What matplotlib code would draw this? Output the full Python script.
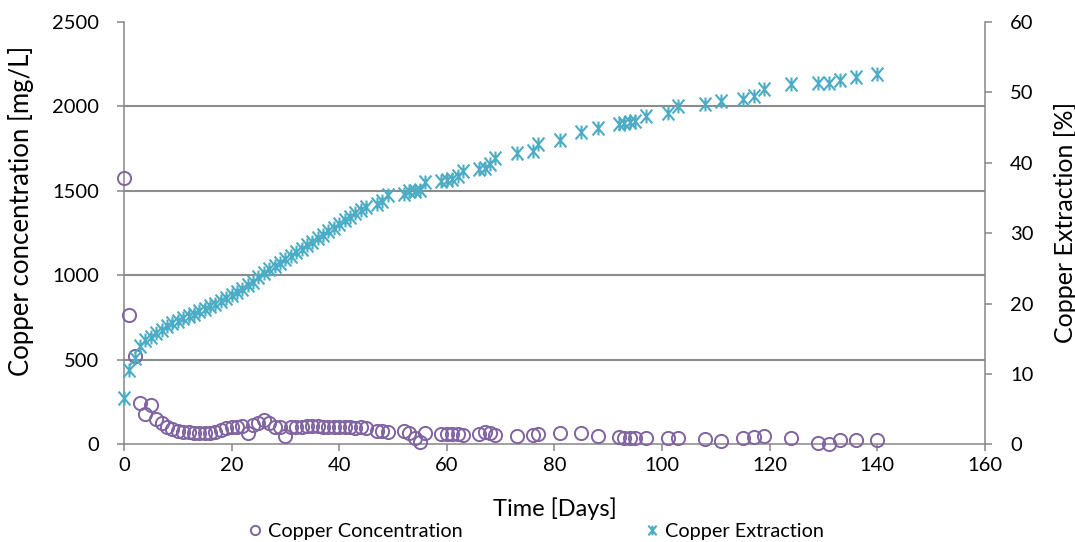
import matplotlib
matplotlib.use("Agg")
import matplotlib.pyplot as plt
from matplotlib.path import Path
import numpy as np

plt.rcParams['font.family'] = ['Lato', 'DejaVu Sans']

days = list(range(0, 46)) + [47, 48, 49, 52, 53, 54, 55, 56, 59, 60, 61, 62, 63,
                             66, 67, 68, 69, 73, 76, 77, 81, 85, 88, 92, 93, 94,
                             95, 97, 101, 103, 108, 111, 115, 117, 119, 124, 129,
                             131, 133, 136, 140]

concentration = [1575, 765, 520, 243, 180, 235, 150, 125, 105, 90,
                 80, 72, 70, 68, 66, 64, 68, 75, 85, 95,
                 100, 100, 108, 65, 115, 125, 145, 125, 105, 100,
                 48, 105, 105, 105, 108, 110, 108, 105, 105, 100,
                 100, 100, 100, 95, 100, 95,
                 80, 78, 75, 78, 65, 35, 12, 65, 60, 60, 60, 58, 55,
                 58, 72, 68, 55, 48, 55, 61, 65, 69, 49, 41, 36, 36,
                 36, 36, 39, 39, 30, 20, 36, 41, 51, 39, 6,
                 3, 25, 26, 26]

extraction = [6.6, 10.5, 12.3, 13.9, 14.8, 15.3, 15.8, 16.3, 16.8, 17.2,
              17.5, 17.9, 18.2, 18.5, 18.9, 19.2, 19.6, 20.0, 20.4, 20.8,
              21.2, 21.7, 22.1, 22.6, 23.1, 23.7, 24.4, 24.9, 25.4, 25.8,
              26.3, 26.8, 27.3, 27.8, 28.3, 28.8, 29.3, 29.8, 30.3, 30.8,
              31.3, 31.8, 32.3, 32.8, 33.3, 33.7,
              34.2, 34.6, 35.4, 35.6, 36.0, 36.0, 36.2, 37.2, 37.4, 37.6, 37.7, 38.1, 38.8,
              39.1, 39.3, 39.8, 40.7, 41.4, 41.7, 42.6, 43.3, 44.3, 45.0, 45.5, 45.7, 45.8,
              46.0, 46.7, 47.1, 48.0, 48.4, 48.8, 49.1, 49.5, 50.5, 51.2, 51.3,
              51.3, 51.7, 52.2, 52.6]

x_ticks = [0, 20, 40, 60, 80, 100, 120, 140, 160]
left_ticks = [0, 500, 1000, 1500, 2000, 2500]
right_ticks = [0, 10, 20, 30, 40, 50, 60]

purple = '#8064A2'
aqua = '#4BACC6'
axis_gray = '#868686'

star = Path([(0, -1), (0, 1), (-0.85, -1), (0.85, 1), (-0.85, 1), (0.85, -1)],
            [Path.MOVETO, Path.LINETO, Path.MOVETO, Path.LINETO, Path.MOVETO, Path.LINETO])

fig = plt.figure(figsize=(10.75, 5.42), dpi=100)
ax = fig.add_axes([0.1153, 0.1803, 0.8010, 0.7791])
ax2 = ax.twinx()

ax.plot(days, concentration, linestyle='none', marker='o', markersize=9.5,
        markerfacecolor='none', markeredgecolor=purple, markeredgewidth=1.4,
        clip_on=False, label='Copper Concentration', zorder=3)
ax2.plot(days, extraction, linestyle='none', marker=star, markersize=10,
         markerfacecolor='none', markeredgecolor=aqua, markeredgewidth=1.5,
         clip_on=False, label='Copper Extraction', zorder=3)

ax.set_xlim(0, 160)
ax.set_ylim(0, 2500)
ax2.set_ylim(0, 60)
ax.set_xticks(x_ticks)
ax.set_yticks(left_ticks)
ax2.set_yticks(right_ticks)

tick_fs = 14.5
for a in (ax, ax2):
    a.spines['top'].set_visible(False)
    for s in ('left', 'right', 'bottom'):
        a.spines[s].set_color(axis_gray)
        a.spines[s].set_linewidth(1.1)
    a.tick_params(axis='both', direction='out', length=5, width=1.1,
                  color=axis_gray, labelsize=tick_fs, labelcolor='black')
ax.tick_params(axis='y', pad=13)
ax2.tick_params(axis='y', pad=13)
ax.tick_params(axis='x', pad=4)
ax.spines['right'].set_visible(False)
ax2.spines['left'].set_visible(False)
ax2.spines['bottom'].set_visible(False)

for yv in left_ticks[1:-1]:
    ax.axhline(yv, color='#8c8c8c', linewidth=1.5, zorder=1)

ax.set_xlabel('Time [Days]', fontsize=17)
ax.set_ylabel('Copper concentration [mg/L]', fontsize=18.5)
ax2.set_ylabel('Copper Extraction [%]', fontsize=18)
ax.xaxis.set_label_coords(0.5, -0.125)
ax.yaxis.set_label_coords(-0.105, 0.552)
ax2.yaxis.set_label_coords(1.080, 0.526)

h1, l1 = ax.get_legend_handles_labels()
h2, l2 = ax2.get_legend_handles_labels()
fig.legend(h1 + h2, l1 + l2, loc='center', bbox_to_anchor=(536 / 1075, 1 - 531 / 542),
           ncol=2, frameon=False, fontsize=14.3, columnspacing=9.2,
           handlelength=0.7, handletextpad=0.3, markerscale=0.7,
           borderpad=0, borderaxespad=0)

fig.savefig('out.png', dpi=100)
